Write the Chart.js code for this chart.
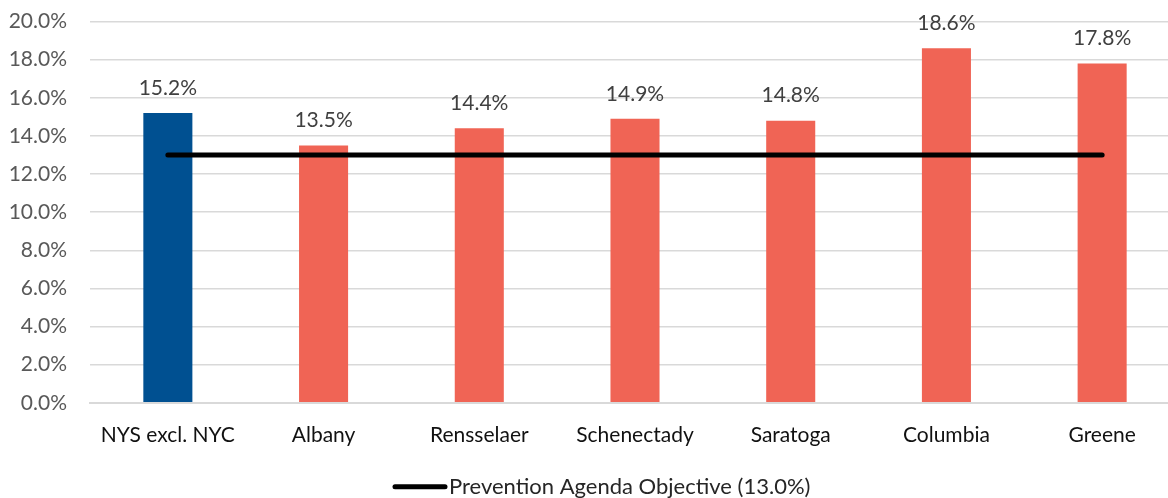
<!DOCTYPE html>
<html>
<head>
<meta charset="utf-8">
<script src="https://cdn.jsdelivr.net/npm/chart.js@4.4.1/dist/chart.umd.min.js"></script>
<style>
  html, body { margin: 0; padding: 0; background: #fff; overflow: hidden; }
  #wrap { width: 1180px; height: 512px; margin-top: -14px; }
</style>
</head>
<body>
<div id="wrap"><canvas id="chart"></canvas></div>
<script>
const categories = ['NYS excl. NYC', 'Albany', 'Rensselaer', 'Schenectady', 'Saratoga', 'Columbia', 'Greene'];
const rates = [15.2, 13.5, 14.4, 14.9, 14.8, 18.6, 17.8];
const objective = [13.0, 13.0, 13.0, 13.0, 13.0, 13.0, 13.0];
const objectiveLabel = 'Prevention Agenda Objective (13.0%)';
const barColors = ['#005091', '#F06455', '#F06455', '#F06455', '#F06455', '#F06455', '#F06455'];

const FONT = 'Lato, "Open Sans", sans-serif';
const FS = 21;

// value labels above the bars + legend line under the axis
const extras = {
  id: 'extras',
  afterDatasetsDraw(chart) {
    const ctx = chart.ctx;
    const meta = chart.getDatasetMeta(1);
    ctx.save();
    ctx.font = FS + 'px ' + FONT;
    ctx.fillStyle = '#404040';
    ctx.textAlign = 'center';
    ctx.textBaseline = 'middle';
    meta.data.forEach((bar, i) => {
      ctx.fillText(rates[i].toFixed(1) + '%', bar.x, bar.y - 25);
    });

    // legend
    ctx.font = '22px ' + FONT;
    const x0 = 393;
    const y = chart.chartArea.bottom + 84;
    ctx.strokeStyle = '#000';
    ctx.lineWidth = 5;
    ctx.lineCap = 'round';
    ctx.beginPath();
    ctx.moveTo(x0 + 2, y);
    ctx.lineTo(x0 + 52, y);
    ctx.stroke();
    ctx.fillStyle = '#262626';
    ctx.textAlign = 'left';
    ctx.fillText(objectiveLabel, x0 + 56, y);
    ctx.restore();
  }
};

new Chart(document.getElementById('chart').getContext('2d'), {
  data: {
    labels: categories,
    datasets: [
      {
        type: 'line',
        label: objectiveLabel,
        data: objective,
        borderColor: '#000',
        backgroundColor: '#000',
        borderWidth: 5,
        borderCapStyle: 'round',
        pointRadius: 0,
        order: 0
      },
      {
        type: 'bar',
        label: 'Rate',
        data: rates,
        backgroundColor: barColors,
        barPercentage: 0.315,
        categoryPercentage: 1,
        order: 1
      }
    ]
  },
  options: {
    responsive: true,
    maintainAspectRatio: false,
    animation: false,
    layout: { padding: { top: 0, left: 8, right: 0, bottom: 30 } },
    plugins: {
      tooltip: { enabled: false },
      legend: { display: false }
    },
    scales: {
      x: {
        grid: { display: false, drawTicks: false },
        border: { display: true, color: '#d9d9d9', width: 2 },
        ticks: { color: '#111', padding: 20, font: { family: FONT, size: FS } }
      },
      y: {
        min: 0,
        max: 20,
        afterFit: s => { s.width = 82; },
        grid: { color: '#d9d9d9', lineWidth: 1.5, drawTicks: false },
        border: { display: false },
        ticks: {
          stepSize: 2,
          padding: 23,
          color: '#595959',
          font: { family: FONT, size: FS },
          callback: v => v.toFixed(1) + '%'
        }
      }
    }
  },
  plugins: [extras]
});
</script>
</body>
</html>
